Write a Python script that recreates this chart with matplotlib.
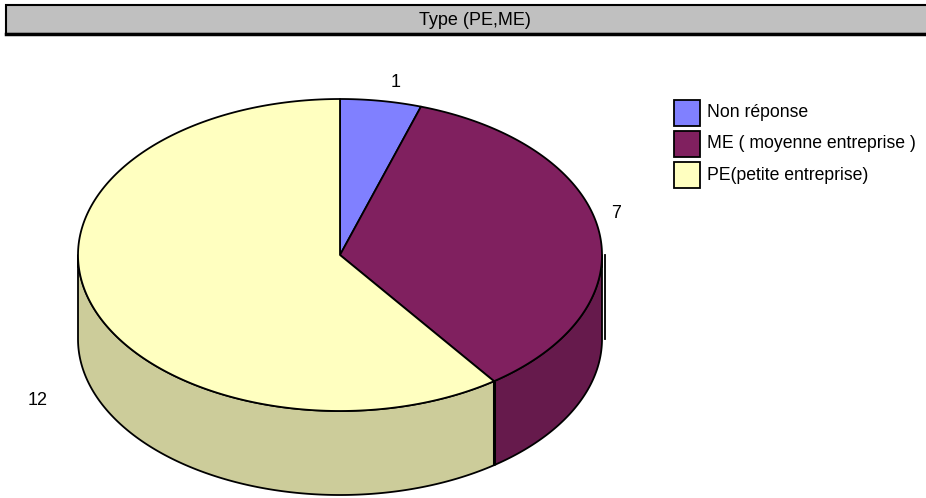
import numpy as np
import matplotlib
matplotlib.use("Agg")
import matplotlib.pyplot as plt
from matplotlib.patches import Polygon, Rectangle

plt.rcParams['font.family'] = ['Liberation Sans', 'DejaVu Sans']

title = "Type (PE,ME)"
categories = ["Non réponse", "ME ( moyenne entreprise )", "PE(petite entreprise)"]
values = [1, 7, 12]
top_colors = ["#8080FF", "#80205F", "#FFFFC0"]
side_colors = ["#6666CC", "#661A4C", "#CCCC9A"]

W, H = 926, 498
fig = plt.figure(figsize=(W / 100, H / 100), dpi=100)
ax = fig.add_axes([0, 0, 1, 1])
ax.set_xlim(0, W)
ax.set_ylim(H, 0)
ax.axis("off")

# pie geometry (pixel space)
cx, cy = 340, 255
rx, ry = 262, 156
depth = 84


def pt(t_deg, dz=0.0):
    t = np.radians(t_deg)
    return cx + rx * np.cos(t), cy - ry * np.sin(t) + dz


def arc(t1, t2, dz=0.0, n=200):
    ts = np.linspace(t1, t2, n)
    return [pt(t, dz) for t in ts]


total = sum(values)
angles = []
start = 90.0
for v in values:
    end = start - 360.0 * v / total
    angles.append((start, end))
    start = end

lw = 1.3
# side walls (visible only on the front half: angles between -180 and 0)
for (a1, a2), sc in zip(angles, side_colors):
    lo, hi = min(a1, a2), max(a1, a2)
    for shift in (0, -360, 360):
        s_lo, s_hi = lo + shift, hi + shift
        v_lo, v_hi = max(s_lo, -180), min(s_hi, 0)
        if v_lo < v_hi:
            top = arc(v_hi, v_lo)
            bot = arc(v_lo, v_hi, depth)
            ax.add_patch(Polygon(top + bot, closed=True, facecolor=sc,
                                 edgecolor="black", lw=lw, joinstyle="round"))

# top faces
for (a1, a2), tc in zip(angles, top_colors):
    poly = [(cx, cy)] + arc(a1, a2)
    ax.add_patch(Polygon(poly, closed=True, facecolor=tc,
                         edgecolor="black", lw=lw, joinstyle="round"))

# thick edge at the ME / PE boundary on the wall
bx, by = pt(angles[1][1])
ax.plot([bx, bx], [by, by + depth], color="black", lw=2.2, solid_capstyle="butt")
# thin stroke just right of the wall
ax.plot([cx + rx + 3, cx + rx + 3], [cy, cy + depth], color="black", lw=1.3)

# value labels
label_pos = [(396, 82), (616, 213), (38, 400)]
for (x, y), v in zip(label_pos, values):
    ax.text(x, y, str(v), ha="center", va="center", fontsize=13)

# title bar
ax.add_patch(Rectangle((6, 5), 930, 29, facecolor="#C0C0C0",
                       edgecolor="black", lw=1.5))
ax.plot([6, W], [34, 34], color="black", lw=2.5)
ax.text(475, 20, title, ha="center", va="center", fontsize=13)

# legend
leg_y = [112.5, 143.5, 175]
for y, lab, c in zip(leg_y, categories, top_colors):
    ax.add_patch(Rectangle((674, y - 13), 26, 26, facecolor=c,
                           edgecolor="black", lw=1.3))
    ax.text(707, y, lab, ha="left", va="center", fontsize=12.7)

fig.savefig("out.png", dpi=100)
